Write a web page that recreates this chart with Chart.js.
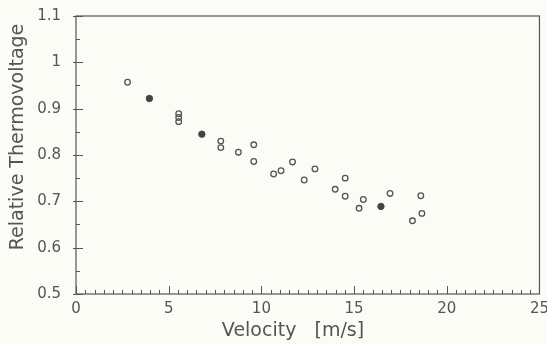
<!DOCTYPE html>
<html>
<head>
<meta charset="utf-8">
<script src="https://cdn.jsdelivr.net/npm/chart.js@4.4.1/dist/chart.umd.min.js"></script>
<style>
  html, body { margin: 0; padding: 0; background: #fbfcf6; }
  #wrap { width: 547px; height: 344px; }
</style>
</head>
<body>
<div id="wrap"><canvas id="c" width="547" height="344"></canvas></div>
<script>
// open circles (measured)
const openX = [2.78, 5.54, 5.54, 5.54, 7.81, 7.81, 8.76, 9.59, 9.59, 10.66, 11.06, 11.68, 12.31, 12.89,
  13.98, 14.52, 14.52, 15.27, 15.50, 16.94, 18.15, 18.60, 18.66];
const openY = [0.957, 0.889, 0.881, 0.872, 0.830, 0.816, 0.806, 0.822, 0.786, 0.759, 0.766, 0.785, 0.746, 0.770,
  0.726, 0.750, 0.711, 0.685, 0.704, 0.717, 0.658, 0.712, 0.674];
// filled points
const fullX = [3.96, 6.79, 16.45];
const fullY = [0.922, 0.845, 0.689];

const xTicks = [0, 5, 10, 15, 20, 25];
const yTicks = [0.5, 0.6, 0.7, 0.8, 0.9, 1, 1.1];
const yLabels = ['0.5', '0.6', '0.7', '0.8', '0.9', '1', '1.1'];

const ink = '#555555';
const font = "'DejaVu Sans', sans-serif";

const toPts = (xs, ys) => xs.map((x, i) => ({ x: x, y: ys[i] }));

// inward ticks, frame and axis titles
const decor = {
  id: 'decor',
  afterDraw(chart) {
    const ctx = chart.ctx;
    const a = chart.chartArea;
    const xs = chart.scales.x, ys = chart.scales.y;
    ctx.save();
    ctx.strokeStyle = ink;
    ctx.lineWidth = 1.2;
    ctx.strokeRect(a.left, a.top, a.right - a.left, a.bottom - a.top);
    ctx.lineWidth = 1;
    ctx.beginPath();
    for (let v = 0; v <= 25.001; v += 0.5) {
      const px = Math.round(xs.getPixelForValue(v)) + 0.5;
      const major = Math.abs(v - Math.round(v / 5) * 5) < 1e-6;
      ctx.moveTo(px, a.bottom);
      ctx.lineTo(px, a.bottom - (major ? 8 : 4));
    }
    for (let v = 0.5; v <= 1.1001; v += 0.05) {
      const py = Math.round(ys.getPixelForValue(v)) + 0.5;
      const major = Math.abs(v * 10 - Math.round(v * 10)) < 1e-6;
      ctx.moveTo(a.left - (major ? 3 : 0), py);
      ctx.lineTo(a.left + (major ? 7 : 4), py);
    }
    ctx.stroke();

    ctx.fillStyle = ink;
    ctx.font = '19px ' + font;
    ctx.textAlign = 'center';
    ctx.textBaseline = 'middle';
    ctx.fillText('Velocity   [m/s]', 293, 331);
    ctx.translate(18, 137);
    ctx.rotate(-Math.PI / 2);
    ctx.fillText('Relative Thermovoltage', 0, 0);
    ctx.restore();
  }
};

new Chart(document.getElementById('c'), {
  type: 'scatter',
  data: {
    datasets: [
      {
        data: toPts(openX, openY),
        pointStyle: 'circle',
        pointRadius: 2.8,
        pointBorderWidth: 1.3,
        pointBorderColor: ink,
        pointBackgroundColor: 'rgba(0,0,0,0)'
      },
      {
        data: toPts(fullX, fullY),
        pointStyle: 'circle',
        pointRadius: 3.2,
        pointBorderWidth: 1,
        pointBorderColor: '#444',
        pointBackgroundColor: '#444'
      }
    ]
  },
  options: {
    responsive: false,
    animation: false,
    layout: { padding: { left: 0, right: 5, top: 14, bottom: 28 } },
    plugins: { legend: { display: false }, tooltip: { enabled: false } },
    scales: {
      x: {
        type: 'linear',
        min: 0, max: 25,
        afterBuildTicks: s => { s.ticks = xTicks.map(v => ({ value: v })); },
        grid: { display: false },
        border: { display: false },
        ticks: { color: ink, font: { family: font, size: 15 }, padding: -2 },
        afterFit: s => { s.height = 22; }
      },
      y: {
        type: 'linear',
        min: 0.5, max: 1.1,
        afterBuildTicks: s => { s.ticks = yTicks.map(v => ({ value: v })); },
        grid: { display: false },
        border: { display: false },
        ticks: {
          color: ink, font: { family: font, size: 15 }, padding: 7,
          callback: (v, i) => yLabels[i]
        },
        afterFit: s => { s.width = 76; }
      }
    }
  },
  plugins: [decor]
});
</script>
</body>
</html>
